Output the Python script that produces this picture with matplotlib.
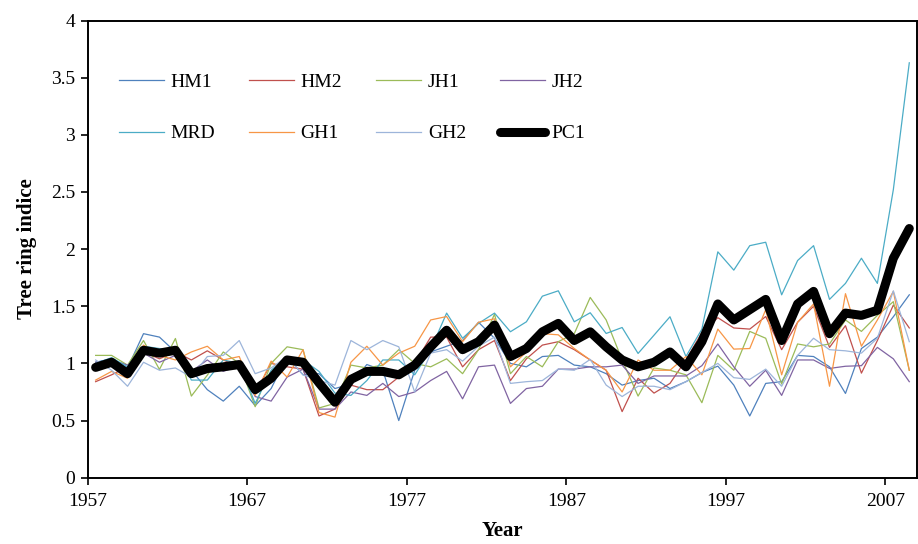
import matplotlib.pyplot as plt

plt.rcParams['font.family'] = ['Liberation Serif', 'DejaVu Serif']

years = list(range(1957, 2009))

HM1 = [1.01, 1.04, 0.96, 1.26, 1.23, 1.10, 0.94, 0.77, 0.67, 0.80, 0.63, 0.78, 1.06,
       0.90, 0.91, 0.78, 0.82, 0.99, 0.94, 0.50, 0.94, 1.10, 1.15, 1.20, 1.36, 1.22,
       1.00, 0.97, 1.06, 1.07, 0.985, 0.97, 0.91, 0.81, 0.85, 0.87, 0.78, 0.84, 0.92,
       0.976, 0.81, 0.54, 0.825, 0.84, 1.07, 1.06, 0.97, 0.737, 1.13, 1.23, 1.408, 1.60]
HM2 = [0.84, 0.90, 0.97, 1.10, 1.04, 1.10, 1.03, 1.11, 1.03, 0.97, 0.74, 1.00, 0.97,
       0.95, 0.54, 0.60, 0.81, 0.77, 0.77, 0.88, 1.00, 1.23, 1.23, 0.97, 1.12, 1.20,
       0.85, 1.04, 1.16, 1.19, 1.12, 1.03, 0.94, 0.578, 0.87, 0.74, 0.825, 1.03, 1.27,
       1.40, 1.31, 1.30, 1.41, 1.12, 1.36, 1.50, 1.14, 1.33, 0.915, 1.20, 1.51, 1.31]
JH1 = [1.07, 1.07, 0.985, 1.20, 0.947, 1.218, 0.714, 0.897, 1.10, 1.00, 0.621, 1.00, 1.145,
       1.12, 0.61, 0.65, 0.985, 0.96, 0.985, 1.12, 1.00, 0.97, 1.04, 0.91, 1.12, 1.43,
       0.91, 1.06, 0.97, 1.19, 1.26, 1.577, 1.38, 1.03, 0.714, 0.96, 0.94, 0.90, 0.656,
       1.07, 0.94, 1.28, 1.22, 0.82, 1.17, 1.145, 1.17, 1.38, 1.28, 1.42, 1.54, 0.94]
JH2 = [1.01, 1.03, 0.985, 1.09, 1.01, 1.07, 0.93, 1.03, 0.93, 0.98, 0.71, 0.67, 0.88,
       0.95, 0.60, 0.60, 0.75, 0.72, 0.825, 0.71, 0.75, 0.85, 0.93, 0.69, 0.97, 0.985,
       0.65, 0.78, 0.80, 0.95, 0.95, 0.97, 0.97, 0.985, 0.825, 0.89, 0.89, 0.89, 0.98,
       1.17, 0.97, 0.80, 0.94, 0.72, 1.03, 1.03, 0.956, 0.975, 0.98, 1.14, 1.04, 0.84]
MRD = [1.00, 1.05, 0.97, 1.15, 1.13, 1.12, 0.854, 0.854, 1.03, 1.00, 0.65, 0.94, 1.06,
       1.03, 0.93, 0.74, 0.72, 0.85, 1.03, 1.03, 0.90, 1.12, 1.44, 1.22, 1.35, 1.44,
       1.277, 1.364, 1.588, 1.635, 1.364, 1.443, 1.262, 1.314, 1.087, 1.247, 1.408, 1.06, 1.30,
       1.976, 1.816, 2.03, 2.06, 1.60, 1.90, 2.03, 1.56, 1.70, 1.92, 1.70, 2.52, 3.63]
GH1 = [0.854, 0.93, 0.87, 1.16, 1.07, 1.03, 1.10, 1.15, 1.03, 1.06, 0.72, 1.02, 0.88,
       1.12, 0.57, 0.53, 1.01, 1.15, 0.985, 1.09, 1.15, 1.38, 1.41, 1.19, 1.36, 1.39,
       0.97, 1.10, 1.26, 1.25, 1.13, 1.03, 0.94, 0.75, 1.03, 0.94, 0.94, 1.06, 0.90,
       1.30, 1.125, 1.13, 1.47, 0.90, 1.36, 1.52, 0.80, 1.61, 1.15, 1.38, 1.63, 0.94]
GH2 = [1.03, 0.94, 0.80, 1.01, 0.94, 0.96, 0.88, 1.06, 1.07, 1.20, 0.91, 0.96, 1.06,
       0.90, 0.85, 0.81, 1.20, 1.12, 1.20, 1.145, 0.75, 1.09, 1.12, 1.02, 1.15, 1.23,
       0.825, 0.84, 0.85, 0.95, 0.94, 1.035, 0.81, 0.71, 0.80, 0.80, 0.77, 0.84, 0.92,
       1.00, 0.875, 0.86, 0.95, 0.80, 1.07, 1.22, 1.12, 1.11, 1.09, 1.22, 1.635, 1.19]
PC1 = [0.965, 1.01, 0.91, 1.115, 1.09, 1.115, 0.91, 0.955, 0.97, 0.99, 0.77, 0.87, 1.03,
       1.01, 0.83, 0.66, 0.86, 0.93, 0.93, 0.90, 0.985, 1.145, 1.29, 1.12, 1.19, 1.335,
       1.06, 1.13, 1.276, 1.35, 1.20, 1.276, 1.145, 1.03, 0.97, 1.01, 1.10, 0.97, 1.19,
       1.52, 1.38, 1.47, 1.56, 1.20, 1.52, 1.63, 1.26, 1.44, 1.42, 1.465, 1.92, 2.18]

names = ['HM1', 'HM2', 'JH1', 'JH2', 'MRD', 'GH1', 'GH2']
series = [HM1, HM2, JH1, JH2, MRD, GH1, GH2]
colors = ['#4F81BD', '#C0504D', '#9BBB59', '#8064A2', '#4BACC6', '#F79646', '#9DB5DA']

xtick_labels = ['1957', '1967', '1977', '1987', '1997', '2007']
ytick_vals = [0, 0.5, 1, 1.5, 2, 2.5, 3, 3.5, 4]
ytick_labels = ['0', '0.5', '1', '1.5', '2', '2.5', '3', '3.5', '4']

fig = plt.figure(figsize=(9.18, 5.44), dpi=100)
ax = fig.add_axes([0.0955, 0.1219, 0.9037, 0.8404])

lines = {}
for name, vals, c in zip(names, series, colors):
    lines[name], = ax.plot(years, vals, color=c, lw=0.9, label=name)
lines['PC1'], = ax.plot(years, PC1, color='black', lw=6.5, label='PC1',
                        solid_capstyle='round', solid_joinstyle='round')

ax.set_xlim(years[0] - 0.5, years[-1] + 0.5)
ax.set_ylim(0, 4)
ax.set_xticks([years[0] - 0.5 + 10 * k for k in range(len(xtick_labels))])
ax.set_xticklabels(xtick_labels)
ax.set_yticks(ytick_vals)
ax.set_yticklabels(ytick_labels)
ax.tick_params(axis='both', direction='out', length=5, width=1.2, labelsize=14, colors='black')
ax.tick_params(axis='x', pad=6)
ax.tick_params(axis='y', pad=4)
for s in ax.spines.values():
    s.set_linewidth(1.4)

ax.set_xlabel('Year', fontsize=15, fontweight='bold', labelpad=8)
ax.set_ylabel('Tree ring indice', fontsize=15, fontweight='bold', labelpad=10)

# matplotlib fills legend columns first, so interleave the two rows
order = ['HM1', 'MRD', 'HM2', 'GH1', 'JH1', 'GH2', 'JH2', 'PC1']
leg = ax.legend([lines[n] for n in order], order, ncol=4, frameon=False,
                loc='upper left', bbox_to_anchor=(0.0377, 0.885),
                borderaxespad=0, borderpad=0, fontsize=14,
                handlelength=2.3, handletextpad=0.35, columnspacing=1.75,
                labelspacing=1.75)

fig.savefig('out.png', dpi=100)
